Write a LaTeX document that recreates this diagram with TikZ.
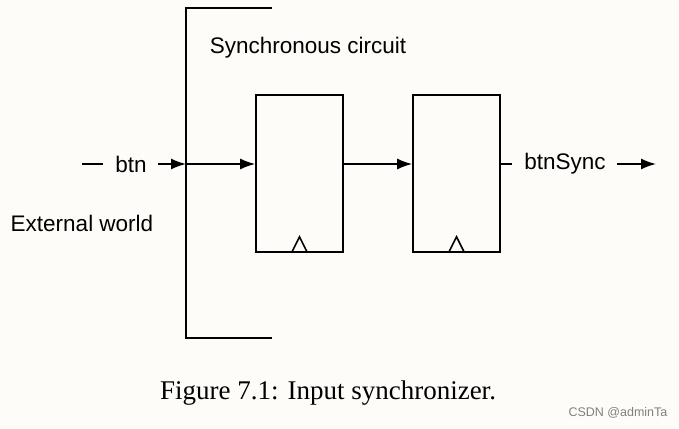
\documentclass[tikz,border=0pt]{standalone}
\usepackage{fontspec}
\setmainfont{Liberation Sans}
\newfontfamily\capfont{Liberation Serif}
\usetikzlibrary{arrows.meta}
\begin{document}
\begin{tikzpicture}[x=1pt,y=-1pt,
  ln/.style={line width=1.6pt,black},
  ar/.style={ln,-{Latex[length=15pt,width=11pt]}},
  box/.style={draw,line width=1.6pt,minimum width=87pt,minimum height=157pt,inner sep=0pt},
  lab/.style={font=\fontsize{22.5}{26}\selectfont,inner sep=0pt}]
\useasboundingbox[fill={rgb,255:red,253;green,252;blue,248}] (0,0) rectangle (679,428);
\draw[ln] (272,8) coordinate (bt) -- (186,8) coordinate (bl) -- (186,338) coordinate (bb) -- (272,338) coordinate (br);
\node[lab] (sc) at (308,48) {Synchronous circuit};
\node[box] (f1) at (299.5,173.5) {};
\node[box] (f2) at (456.5,173.5) {};
\draw[ln] ([xshift=-8pt]f1.south) -- ([yshift=16pt]f1.south) -- ([xshift=8pt]f1.south);
\draw[ln] ([xshift=-8pt]f2.south) -- ([yshift=16pt]f2.south) -- ([xshift=8pt]f2.south);
\coordinate (a0) at (82,164); \coordinate (a1) at (103,164);
\draw[ln] (a0) -- (a1);
\node[lab] (btn) at (131,164) {btn};
\coordinate (a2) at (158,164); \coordinate (j) at (186,164);
\draw[ar] (a2) -- (j);
\draw[ar] (j) -- (f1.west |- j);
\draw[ar] (f1.east |- j) -- (f2.west |- j);
\coordinate (o1) at (512,164);
\draw[ln] (f2.east |- j) -- (o1);
\node[lab] (bs) at (565,164) {btnSync};
\coordinate (o2) at (617,164); \coordinate (o3) at (656,164);
\draw[ar] (o2) -- (o3);
\node[lab] (ew) at (82,223) {External world};
\node[font=\capfont\fontsize{27}{32}\selectfont,inner sep=0pt] (cap) at (328,393) {Figure 7.1: Input synchronizer.};
\node[font=\fontsize{12.5}{15}\selectfont,text=gray,inner sep=0pt] (wm) at (618,413) {CSDN @adminTa};
\end{tikzpicture}
\end{document}
